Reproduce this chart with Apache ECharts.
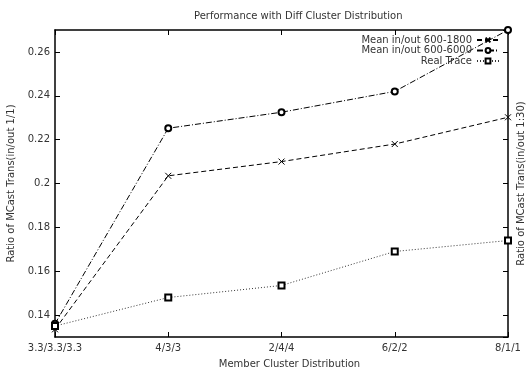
<!DOCTYPE html>
<html>
<head>
<meta charset="utf-8">
<script src="https://cdn.jsdelivr.net/npm/echarts@6/dist/echarts.min.js"></script>
<style>
html, body { margin: 0; padding: 0; background: #fff; }
#chart { width: 526px; height: 373px; }
</style>
</head>
<body>
<div id="chart"></div>
<script>
// data
const categories = ['3.3/3.3/3.3', '4/3/3', '2/4/4', '6/2/2', '8/1/1'];
const mean1800 = [0.1335, 0.2035, 0.2100, 0.2180, 0.2302];
const mean6000 = [0.1360, 0.2252, 0.2325, 0.2420, 0.2700];
const realTrace = [0.1350, 0.1480, 0.1535, 0.1690, 0.1740];
const seriesNames = ['Mean in/out 600-1800', 'Mean in/out 600-6000', 'Real Trace'];

let chartDom = document.getElementById('chart');
let chart = echarts.init(chartDom);
const font = 'DejaVu Sans';
const axisColor = '#000';
const textColor = '#333';

var option;

option = {
    animation: false,
    title: {
        text: 'Performance with Diff Cluster Distribution',
        left: 189,
        top: 6,
        textStyle: { fontFamily: font, fontSize: 10, fontWeight: 'normal', color: textColor }
    },
    legend: {
        orient: 'vertical',
        right: 26,
        top: 35,
        align: 'right',
        itemWidth: 22,
        itemHeight: 6,
        itemGap: 0.5,
        padding: 0,
        data: seriesNames,
        textStyle: { fontFamily: font, fontSize: 10, color: textColor, lineHeight: 9 }
    },
    grid: {
        left: 55,
        right: 18,
        top: 30,
        bottom: 36,
        outerBoundsMode: 'none'
    },
    xAxis: [
        {
            type: 'category',
            boundaryGap: false,
            data: categories,
            name: 'Member Cluster Distribution',
            nameLocation: 'middle',
            nameGap: 22,
            nameTextStyle: { fontFamily: font, fontSize: 10, color: textColor, padding: [0, 0, 0, 16] },
            axisLine: { lineStyle: { color: axisColor, width: 1.5 } },
            axisTick: { inside: true, length: 5, lineStyle: { color: axisColor } },
            axisLabel: { fontFamily: font, fontSize: 10, color: textColor, margin: 6, showMaxLabel: true }
        },
        {
            type: 'category',
            position: 'top',
            boundaryGap: false,
            data: categories,
            axisLine: { lineStyle: { color: axisColor, width: 1.5 } },
            axisTick: { inside: true, length: 5, lineStyle: { color: axisColor } },
            axisLabel: { show: false }
        }
    ],
    yAxis: [
        {
            type: 'value',
            min: 0.13,
            max: 0.27,
            splitNumber: 7,
            name: 'Ratio of MCast Trans(in/out 1/1)',
            nameLocation: 'middle',
            nameGap: 36,
            nameTextStyle: { fontFamily: font, fontSize: 10, color: textColor },
            splitLine: { show: false },
            axisLine: { show: true, lineStyle: { color: axisColor, width: 1.5 } },
            axisTick: { show: true, inside: true, length: 5, lineStyle: { color: axisColor } },
            axisLabel: { fontFamily: font, fontSize: 10, color: textColor, margin: 5, showMinLabel: false, showMaxLabel: false }
        },
        {
            type: 'value',
            position: 'right',
            min: 0.13,
            max: 0.27,
            splitNumber: 7,
            name: 'Ratio of MCast Trans(in/out 1:30)',
            nameLocation: 'middle',
            nameGap: 8,
            nameTextStyle: { fontFamily: font, fontSize: 10, color: textColor },
            splitLine: { show: false },
            axisLine: { show: true, lineStyle: { color: axisColor, width: 1.5 } },
            axisTick: { show: true, inside: true, length: 5, lineStyle: { color: axisColor } },
            axisLabel: { show: false }
        }
    ],
    series: [
        {
            name: seriesNames[0],
            type: 'line',
            data: mean1800,
            symbol: 'path://M0,0L10,10M10,0L0,10',
            symbolSize: 6,
            showAllSymbol: true,
            itemStyle: { color: '#000', borderColor: '#000', borderWidth: 1 },
            lineStyle: { color: '#000', width: 1, type: [5, 3] }
        },
        {
            name: seriesNames[1],
            type: 'line',
            data: mean6000,
            symbol: 'emptyCircle',
            symbolSize: 6,
            showAllSymbol: true,
            itemStyle: { color: '#000', borderWidth: 0.8 },
            lineStyle: { color: '#000', width: 1, type: [6, 2, 1, 2] }
        },
        {
            name: seriesNames[2],
            type: 'line',
            data: realTrace,
            symbol: 'emptyRect',
            symbolSize: 6,
            showAllSymbol: true,
            itemStyle: { color: '#000', borderWidth: 0.8 },
            lineStyle: { color: '#333', width: 1, type: [1, 2] }
        }
    ]
};
chart.setOption(option);
</script>
</body>
</html>
